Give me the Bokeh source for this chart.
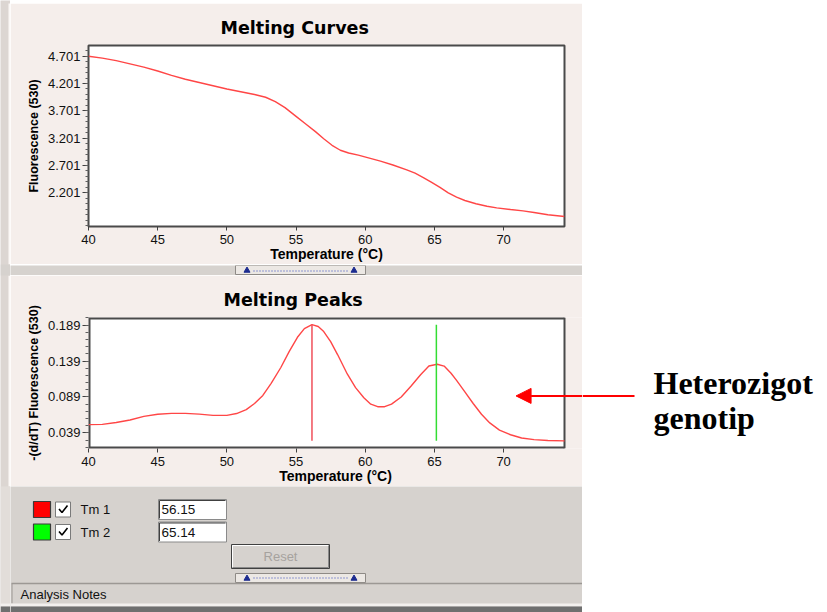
from bokeh.plotting import figure
from bokeh.layouts import column, row
from bokeh.models import Range1d, FixedTicker, PrintfTickFormatter, Arrow, NormalHead
from bokeh.embed import file_html
from bokeh.resources import INLINE
from bokeh.core.properties import value

# ---------------- data ----------------
temp_ticks = [40, 45, 50, 55, 60, 65, 70]
curve_y_ticks = [2.201, 2.701, 3.201, 3.701, 4.201, 4.701]
peak_y_ticks = [0.039, 0.089, 0.139, 0.189]

curve_temp = [40.0, 41.0, 42.0, 43.0, 44.0, 45.0, 46.0, 47.0, 48.0, 49.0, 50.0, 51.0,
              52.0, 52.8, 53.5, 54.2, 55.0, 55.7, 56.4, 57.0, 57.6, 58.2, 58.8, 59.5,
              60.1, 61.1, 62.0, 63.0, 63.6, 64.2, 64.8, 65.4, 66.0, 66.6, 67.2, 68.0,
              68.8, 69.5, 70.5, 71.4, 72.2, 73.2, 74.4]
curve_fluor = [4.700, 4.665, 4.62, 4.56, 4.50, 4.43, 4.35, 4.28, 4.22, 4.16, 4.10, 4.05,
               4.00, 3.95, 3.87, 3.76, 3.60, 3.46, 3.32, 3.19, 3.07, 2.98, 2.93, 2.89,
               2.85, 2.78, 2.71, 2.62, 2.56, 2.48, 2.39, 2.30, 2.20, 2.12, 2.06, 2.00,
               1.955, 1.925, 1.895, 1.87, 1.84, 1.80, 1.766]

peak_temp = [40.0, 41.0, 42.0, 43.0, 44.0, 45.0, 46.0, 47.0, 48.0, 49.0, 50.0, 50.7,
             51.4, 52.0, 52.6, 53.2, 53.9, 54.5, 55.1, 55.6, 56.15, 56.6, 57.0, 57.5,
             58.0, 58.7, 59.3, 59.9, 60.4, 60.9, 61.4, 61.9, 62.6, 63.3, 64.0, 64.6,
             65.2, 65.7, 66.2, 66.6, 67.2, 67.8, 68.4, 69.0, 69.7, 70.5, 71.3, 72.2,
             73.2, 74.4]
peak_deriv = [0.0506, 0.051, 0.0535, 0.057, 0.062, 0.065, 0.0662, 0.0662, 0.0652, 0.0635,
              0.0635, 0.066, 0.0714, 0.080, 0.0912, 0.108, 0.130, 0.152, 0.172, 0.184,
              0.1895, 0.187, 0.180, 0.166, 0.148, 0.121, 0.102, 0.088, 0.079, 0.0755,
              0.0755, 0.079, 0.089, 0.104, 0.120, 0.132, 0.1345, 0.132, 0.122, 0.112,
              0.096, 0.080, 0.065, 0.053, 0.043, 0.0365, 0.032, 0.0298, 0.0285, 0.028]

tm_names = ["Tm 1", "Tm 2"]
tm_values = [56.15, 65.14]
tm_swatch_colors = ["#ff0000", "#00ff00"]
tm_line_colors = ["#f0505a", "#33dd33"]

note_lines = ["Heterozigot", "genotip"]
arrow_tip = (70.9, 0.0905)      # where the annotation arrow points (data units)

# ---------------- layout constants ----------------
W, H = 827, 612
PANEL_R = 582          # right edge of the software panel
STRIP = 10             # left window edge strip
LW = PANEL_R - STRIP   # width of the panel column
FRAME_L, FRAME_R = 88, 564
X0, X1 = 40, 74.4
PINK = "#f5eeeb"
GRAY = "#d6d2ce"
EDGE = "#dcd6d2"
DARK = "#4a4a4a"
SANS = "Liberation Sans"
CURVE = "#ff4646"

TOP_Y = (1.584, 4.897)
BOT_Y = (0.0174, 0.1995)
B_TOP_ABS, B_BOT_ABS = 317, 448


def canvas_fig(w, h, fill):
    p = figure(width=w, height=h, x_range=Range1d(0, w), y_range=Range1d(h, 0),
               x_axis_type=None, y_axis_type=None, output_backend="svg",
               toolbar_location=None, min_border=0, border_fill_color=fill,
               background_fill_color=fill, outline_line_color=None, frame_align=False)
    p.grid.visible = False
    return p


def chart(h, top_pad, bottom_pad, right_pad, x_end, y_rng, yticks, yminor, ylabel, title,
          title_offset, frame_fill, outline):
    p = figure(width=LW, height=h, x_range=Range1d(X0, x_end), y_range=Range1d(*y_rng),
               output_backend="svg", toolbar_location=None, title=title,
               min_border_left=FRAME_L - STRIP, min_border_right=right_pad,
               min_border_top=top_pad, min_border_bottom=bottom_pad,
               background_fill_color=frame_fill, border_fill_color=PINK,
               outline_line_color=outline, outline_line_width=2, frame_align=False)
    p.grid.visible = False
    p.title.align = "left"
    p.title.offset = title_offset
    p.title.standoff = 15
    p.title.text_font = "DejaVu Sans"
    p.title.text_font_size = "17.5px"
    p.title.text_font_style = "bold"
    p.title.text_color = "#000000"

    xa = p.xaxis[0]
    xa.ticker = FixedTicker(ticks=temp_ticks)
    xa.axis_label = "Temperature (°C)"
    xa.axis_label_text_font = SANS
    xa.axis_label_text_font_style = "bold"
    xa.axis_label_text_font_size = "14px"
    xa.axis_label_text_color = "#000000"
    xa.axis_label_standoff = -1
    xa.major_label_text_font = SANS
    xa.major_label_text_font_size = "13px"
    xa.major_label_text_color = "#111111"
    xa.major_label_standoff = 4
    xa.major_tick_out = 4
    xa.major_tick_in = 0
    xa.minor_tick_out = 0
    xa.minor_tick_in = 0
    xa.axis_line_color = None
    xa.major_tick_line_color = "#404040"

    ya = p.yaxis[0]
    ya.ticker = FixedTicker(ticks=yticks, minor_ticks=yminor)
    ya.formatter = PrintfTickFormatter(format="%.3f")
    ya.axis_label = ylabel
    ya.axis_label_text_font = SANS
    ya.axis_label_text_font_style = "bold"
    ya.axis_label_text_font_size = "12.5px"
    ya.axis_label_text_color = "#000000"
    ya.axis_label_standoff = 4
    ya.major_label_text_font = SANS
    ya.major_label_text_font_size = "13px"
    ya.major_label_text_color = "#111111"
    ya.major_label_standoff = 2
    ya.major_tick_out = 6
    ya.major_tick_in = 0
    ya.minor_tick_out = 3
    ya.minor_tick_in = 0
    ya.axis_line_color = None
    ya.major_tick_line_color = "#404040"
    ya.minor_tick_line_color = "#606060"
    return p


# ---------------- left window strip ----------------
strip = canvas_fig(STRIP, H, EDGE)
strip.quad(left=[8], right=[10], top=[3], bottom=[264], fill_color="#fbf8f6", line_color=None)
strip.quad(left=[8], right=[10], top=[275], bottom=[486], fill_color="#fbf8f6", line_color=None)
strip.quad(left=[0], right=[10], top=[264], bottom=[275], fill_color=GRAY, line_color=None)
strip.quad(left=[0], right=[10], top=[486], bottom=[603], fill_color="#e2ddd9", line_color=None)
strip.quad(left=[0], right=[10], top=[603], bottom=[606], fill_color="#f3f0ee", line_color=None)
strip.quad(left=[0], right=[10], top=[606], bottom=[H], fill_color="#6f6f6f", line_color=None)

# ---------------- top band ----------------
band = canvas_fig(LW, 3, EDGE)

# ---------------- top chart: Melting Curves ----------------
curve_minor = [round(1.601 + 0.1 * i, 3) for i in range(33)]
top = chart(261, 42, 38, PANEL_R - FRAME_R, X1, TOP_Y, curve_y_ticks, curve_minor,
            "Fluorescence (530)", "Melting Curves", 132, "white", DARK)
top.line(curve_temp, curve_fluor, line_color=CURVE, line_width=1.4)

# ---------------- separator with splitter ----------------
sep = canvas_fig(LW, 11, GRAY)
sep.quad(left=[225], right=[355], top=[0], bottom=[9], fill_color="#ece8e4",
         line_color="#8e8a86")
sep.segment(x0=[243], y0=[5.5], x1=[337], y1=[5.5], line_color="#3344bb",
            line_dash="1 2", line_width=1)
sep.scatter(x=[236.5, 343.5], y=[5, 5], marker="triangle", size=6, fill_color="#1c2b8f",
            line_color="#1c2b8f")

# ---------------- bottom chart: Melting Peaks ----------------
# frame is widened to the panel edge so the annotation arrow can run into it
x_end_b = X0 + (PANEL_R - FRAME_L) * (X1 - X0) / (FRAME_R - FRAME_L)
peak_minor = [round(0.019 + 0.01 * i, 3) for i in range(19)]
bot = chart(211, 42, 38, 0, x_end_b, BOT_Y, peak_y_ticks, peak_minor,
            "-(d/dT) Fluorescence (530)", "Melting Peaks", 135, PINK, None)
bot.quad(left=[X0], right=[X1], bottom=[BOT_Y[0]], top=[BOT_Y[1]], fill_color="white",
         line_color=None)
bot.multi_line(xs=[[X1, X0, X0, X1]], ys=[[BOT_Y[1], BOT_Y[1], BOT_Y[0], BOT_Y[0]]],
               line_color=DARK, line_width=4)
bot.segment(x0=[X1], y0=[BOT_Y[0]], x1=[X1], y1=[BOT_Y[1]], line_color=DARK, line_width=2)
bot.line(peak_temp, peak_deriv, line_color=CURVE, line_width=1.4)
bot.segment(x0=tm_values, y0=[min(peak_deriv)] * 2, x1=tm_values, y1=[max(peak_deriv)] * 2,
            line_color=tm_line_colors, line_width=1.5)
bot.add_layout(Arrow(x_start=x_end_b + 1, y_start=arrow_tip[1], x_end=arrow_tip[0],
                     y_end=arrow_tip[1],
                     end=NormalHead(size=15, fill_color="#ff0000", line_color="#ff0000"),
                     line_color="#ff0000", line_width=2))

# ---------------- lower control panel ----------------
LH = H - 486
lg = canvas_fig(LW, LH, GRAY)
rows = [23, 45.5]
lg.quad(left=[23, 23], right=[40, 40], top=[c - 8 for c in rows], bottom=[c + 8 for c in rows],
        fill_color=tm_swatch_colors, line_color="#3a3a3a", line_width=1.2)
lg.quad(left=[45, 45], right=[60, 60], top=[c - 7.5 for c in rows],
        bottom=[c + 7.5 for c in rows], fill_color="white", line_color="#7a7a7a")
lg.multi_line(xs=[[48.5, 51.5, 57.0]] * 2, ys=[[c - 0.5, c + 3.0, c - 4.0] for c in rows],
              line_color="black", line_width=1.6)
lg.text(x=[70, 70], y=rows, text=tm_names, text_font=value(SANS), text_font_size="13px",
        text_color="#111111", text_baseline="middle", text_align="left")
lg.quad(left=[148, 148], right=[216, 216], top=[c - 10 for c in rows],
        bottom=[c + 10 for c in rows], fill_color="white", line_color="#8a8a8a")
lg.multi_line(xs=[[149, 149, 215]] * 2, ys=[[c + 9, c - 9, c - 9] for c in rows],
              line_color="#404040", line_width=1)
lg.text(x=[151, 151], y=rows, text=[f"{v:.2f}" for v in tm_values], text_font=value(SANS),
        text_font_size="13.5px", text_color="#111111", text_baseline="middle",
        text_align="left")
# Reset button
lg.quad(left=[221], right=[319], top=[58], bottom=[82], fill_color=GRAY, line_color="#404040")
lg.multi_line(xs=[[222, 222, 318]], ys=[[81, 59, 59]], line_color="white", line_width=1)
lg.multi_line(xs=[[222, 318, 318]], ys=[[81, 81, 59]], line_color="#8a8a8a", line_width=1)
lg.text(x=[270], y=[70], text=["Reset"], text_font=value(SANS), text_font_size="13px",
        text_color="#a6a29e", text_baseline="middle", text_align="center")
# splitter
lg.quad(left=[225], right=[355], top=[87], bottom=[96], fill_color="#ece8e4",
        line_color="#8e8a86")
lg.segment(x0=[243], y0=[91.5], x1=[337], y1=[91.5], line_color="#3344bb",
           line_dash="1 2", line_width=1)
lg.scatter(x=[236.5, 343.5], y=[92, 92], marker="triangle", size=6, fill_color="#1c2b8f",
           line_color="#1c2b8f")
# analysis notes bar
lg.segment(x0=[1], y0=[97], x1=[LW], y1=[97], line_color="#9c9894", line_width=1.5)
lg.segment(x0=[1.5], y0=[97], x1=[1.5], y1=[117], line_color="#9c9894", line_width=1)
lg.text(x=[10], y=[107.5], text=["Analysis Notes"], text_font=value(SANS),
        text_font_size="13px", text_color="#111111", text_baseline="middle",
        text_align="left")
lg.quad(left=[0], right=[LW], top=[117], bottom=[120], fill_color="#f3f0ee", line_color=None)
lg.quad(left=[0], right=[LW], top=[120], bottom=[LH], fill_color="#6f6f6f", line_color=None)

# ---------------- right white area with annotation ----------------
RW = W - PANEL_R
right = canvas_fig(RW, H, "white")
arrow_y_px = B_TOP_ABS + (BOT_Y[1] - arrow_tip[1]) / (BOT_Y[1] - BOT_Y[0]) * (B_BOT_ABS - B_TOP_ABS)
right.segment(x0=[0], y0=[arrow_y_px], x1=[52], y1=[arrow_y_px], line_color="#ff0000",
              line_width=2)
right.text(x=[71, 71], y=[382, 417.5], text=note_lines, text_font=value("Liberation Serif"),
           text_font_style="bold", text_font_size="32px", text_color="#000000",
           text_baseline="alphabetic", text_align="left")

layout = row(strip, column(band, top, sep, bot, lg, spacing=0), right, spacing=0)
open("out.html", "w").write(file_html(layout, INLINE))
